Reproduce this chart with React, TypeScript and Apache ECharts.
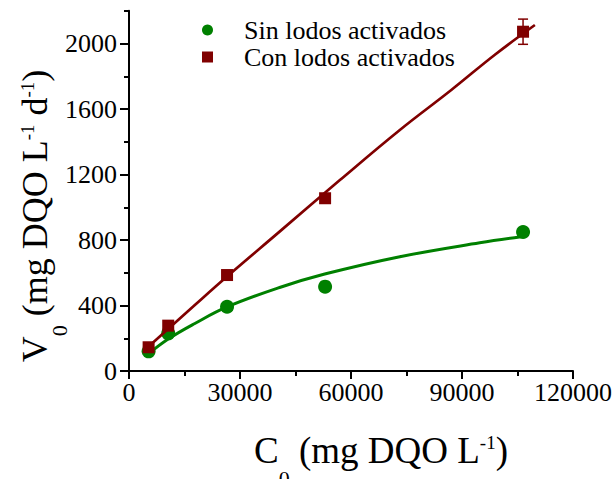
import React, { useEffect, useRef } from "react";
import * as echarts from "echarts";

// Initial concentration (mg DQO/L) of each assay
const concentrations = [5300, 10600, 26500, 53000, 106500];
// Initial rate V0 (mg DQO L-1 d-1)
const rateWithoutSludge = [120, 230, 392, 515, 849];
const rateWithSludge = [145, 277, 586, 1055, 2072];
// Standard deviation of the rate with sludge (0 = not drawn)
const errWithSludge = [0, 0, 0, 0, 77];

// Fitted curves
const fitWithoutX = [5300, 10600, 17800, 26500, 40700, 52900, 73200, 94800, 106000];
const fitWithoutY = [105, 195, 290, 391, 510, 592, 698, 783, 820];
const fitWithX = [5300, 17800, 26500, 40700, 57000, 73200, 87100, 98800, 109700];
const fitWithY = [150, 403, 577, 851, 1166, 1472, 1716, 1930, 2113];

// Axis ticks
const yMajorTicks = [0, 400, 800, 1200, 1600, 2000];
const yMinorTicks = [200, 600, 1000, 1400, 1800, 2200];

const seriesNames = ["Sin lodos activados", "Con lodos activados"];

const GREEN = "#008000";
const RED = "#800000";
const FONT = "'Liberation Serif', 'Times New Roman', serif";

export default function App() {
  const ref = useRef<HTMLDivElement>(null);

  useEffect(() => {
    if (!ref.current) return;
    const chart = echarts.init(ref.current, undefined, { renderer: "svg" });

    const pts = (xs: number[], ys: number[]) => xs.map((x, i) => [x, ys[i]]);
    const errData = concentrations
      .map((x, i) => [x, rateWithSludge[i] - errWithSludge[i], rateWithSludge[i] + errWithSludge[i], errWithSludge[i]])
      .filter((d) => d[3] > 0);

    const makeRich = (size: number, subPad: number) => ({
      m: { fontSize: size, lineHeight: size, fontFamily: FONT, fill: "#000", verticalAlign: "middle" },
      s: { fontSize: 22, lineHeight: 22, fontFamily: FONT, fill: "#000", verticalAlign: "middle", padding: [subPad, 0, 0, 0] },
      p: { fontSize: 19, lineHeight: 19, fontFamily: FONT, fill: "#000", verticalAlign: "middle", padding: [0, 0, 15, 0] },
    });

    const plain = (v: number) => String(v);
    const axisLabel = { fontSize: 26, fontFamily: FONT, color: "#000", formatter: plain };
    const axisLine = { show: true, lineStyle: { color: "#000", width: 2 } };

    chart.setOption({
      animation: false,
      backgroundColor: "#fff",
      textStyle: { fontFamily: FONT },
      grid: { left: 129, right: 43, top: 10.75, bottom: 108, containLabel: false },
      legend: {
        orient: "vertical",
        left: 197,
        top: 12,
        itemWidth: 11,
        itemHeight: 11,
        itemGap: 1,
        textStyle: { fontSize: 26, lineHeight: 26, fontFamily: FONT, color: "#000", padding: [0, 0, 0, 26] },
        data: [
          { name: seriesNames[0], icon: "circle" },
          { name: seriesNames[1], icon: "rect" },
        ],
      },
      xAxis: {
        type: "value",
        min: 0,
        max: 120000,
        interval: 30000,
        axisLine,
        axisTick: { show: true, inside: false, length: 8, lineStyle: { color: "#000", width: 2 } },
        minorTick: { show: true, splitNumber: 2, length: 5, lineStyle: { color: "#000", width: 2 } },
        axisLabel: { ...axisLabel, margin: 8 },
        splitLine: { show: false },
        minorSplitLine: { show: false },
      },
      yAxis: [
        {
          type: "value",
          min: 0,
          max: 2200,
          axisLine,
          axisTick: { show: true, inside: false, length: 9, customValues: yMajorTicks, lineStyle: { color: "#000", width: 2 } },
          axisLabel: { ...axisLabel, margin: 12, customValues: yMajorTicks },
          splitLine: { show: false },
        },
        {
          type: "value",
          min: 0,
          max: 2200,
          position: "left",
          axisLine: { show: false },
          axisTick: { show: true, inside: false, length: 5, customValues: yMinorTicks, lineStyle: { color: "#000", width: 2 } },
          axisLabel: { show: false },
          splitLine: { show: false },
        },
      ],
      series: [
        {
          name: seriesNames[0],
          type: "scatter",
          symbol: "circle",
          symbolSize: 14,
          itemStyle: { color: GREEN, opacity: 1 },
          data: pts(concentrations, rateWithoutSludge),
          z: 2,
        },
        {
          name: "fit-sin",
          type: "line",
          smooth: 0.4,
          showSymbol: false,
          lineStyle: { color: GREEN, width: 3 },
          data: pts(fitWithoutX, fitWithoutY),
          z: 3,
        },
        {
          name: seriesNames[1],
          type: "scatter",
          symbol: "rect",
          symbolSize: 12,
          itemStyle: { color: RED, opacity: 1 },
          data: pts(concentrations, rateWithSludge),
          z: 4,
        },
        {
          name: "fit-con",
          type: "line",
          smooth: 0.4,
          showSymbol: false,
          lineStyle: { color: RED, width: 2.7 },
          data: pts(fitWithX, fitWithY),
          z: 5,
        },
        {
          name: "err-con",
          type: "custom",
          z: 6,
          data: errData,
          renderItem: (params: any, api: any) => {
            const x = api.value(0);
            const lo = api.coord([x, api.value(1)]);
            const hi = api.coord([x, api.value(2)]);
            const half = 5;
            const style = { stroke: RED, lineWidth: 1.5 };
            return {
              type: "group",
              children: [
                { type: "line", shape: { x1: hi[0], y1: hi[1], x2: lo[0], y2: lo[1] }, style },
                { type: "line", shape: { x1: hi[0] - half, y1: hi[1], x2: hi[0] + half, y2: hi[1] }, style },
                { type: "line", shape: { x1: lo[0] - half, y1: lo[1], x2: lo[0] + half, y2: lo[1] }, style },
              ],
            };
          },
        },
      ],
      graphic: [
        {
          type: "text",
          x: 381,
          y: 450,
          style: {
            text: "{m|C}{s|0}{m| (mg DQO L}{p|-1}{m|)}",
            rich: makeRich(37, 56),
            align: "center",
            verticalAlign: "middle",
          },
        },
        {
          type: "text",
          x: 35,
          y: 216,
          rotation: Math.PI / 2,
          style: {
            text: "{m|V}{s|0}{m| (mg DQO L}{p|-1}{m| d}{p|-1}{m|)}",
            rich: makeRich(36, 48),
            align: "center",
            verticalAlign: "middle",
          },
        },
      ],
    });

    return () => chart.dispose();
  }, []);

  return (
    <div
      ref={ref}
      style={{ position: "absolute", left: 0, top: 0, width: 616, height: 479, background: "#fff" }}
    />
  );
}
